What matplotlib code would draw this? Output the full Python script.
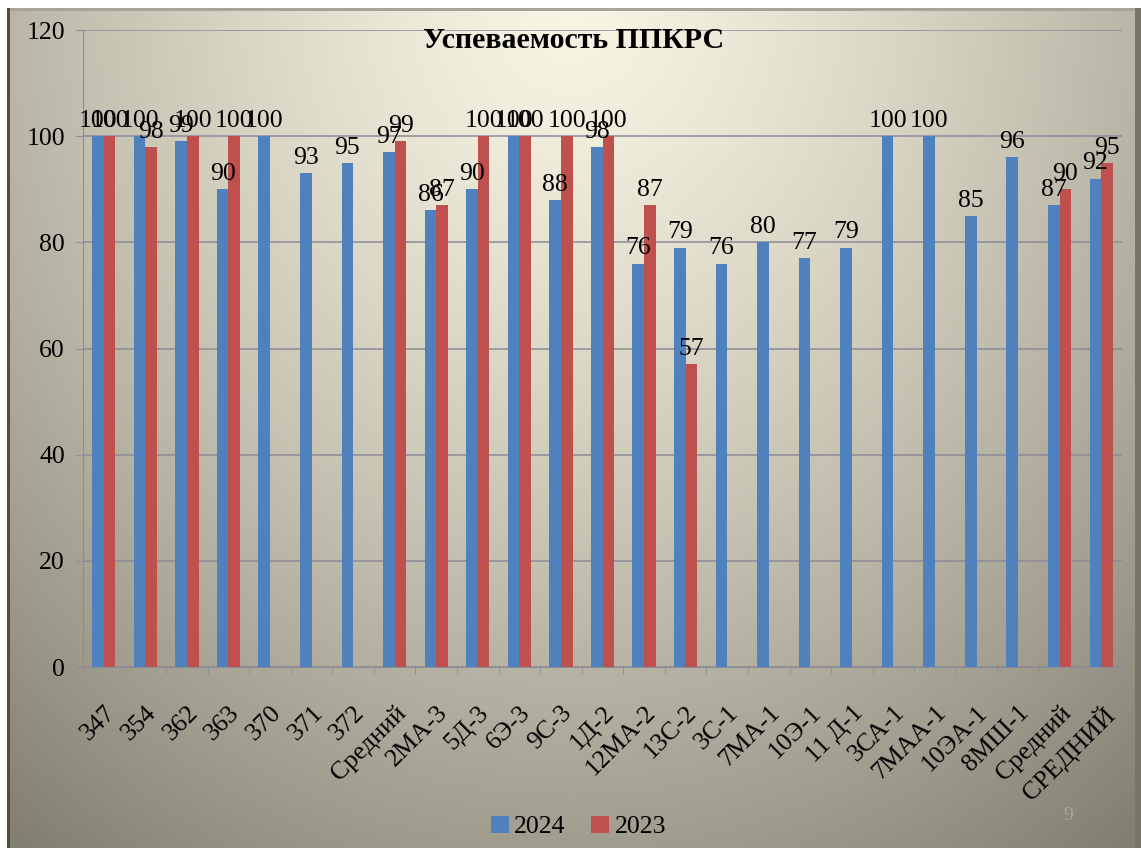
import numpy as np
import matplotlib
matplotlib.use("Agg")
import matplotlib.pyplot as plt

plt.rcParams['font.family'] = ['Liberation Serif', 'DejaVu Serif']

categories = ["347", "354", "362", "363", "370", "371", "372", "Средний",
              "2МА-3", "5Д-3", "6Э-3", "9С-3", "1Д-2", "12МА-2", "13С-2",
              "3С-1", "7МА-1", "10Э-1", "11 Д-1", "3СА-1", "7МАА-1",
              "10ЭА-1", "8МШ-1", "Средний", "СРЕДНИЙ"]
values_2024 = [100, 100, 99, 90, 100, 93, 95, 97, 86, 90, 100, 88, 98, 76, 79,
               76, 80, 77, 79, 100, 100, 85, 96, 87, 92]
values_2023 = [100, 98, 100, 100, None, None, None, 99, 87, 100, 100, 100, 100,
               87, 57, None, None, None, None, None, None, None, None, 90, 95]

W, H = 1141, 848
fig = plt.figure(figsize=(W / 100, H / 100), dpi=100)

# background gradient (slide look)
yy, xx = np.mgrid[0:H, 0:W]
dx = (xx / W - 0.5) / 0.8
dy = (yy / H) / 1.25
t = np.clip(np.sqrt(dx ** 2 + dy ** 2), 0, 1) ** 1.3
t = t[..., None]
light = np.array([249, 245, 228]) / 255
dark = np.array([130, 127, 113]) / 255
img = light * (1 - t) + dark * t
img[:8, :] = 1.0
img[:, :7] = 1.0
img[8:11, 7:] = np.array([168, 164, 150]) / 255
img[8:, 7:10] = np.array([80, 78, 66]) / 255
img[8:, 1135:] = np.array([120, 118, 104]) / 255
bg = fig.add_axes([0, 0, 1, 1])
bg.imshow(img, aspect='auto', interpolation='bilinear')
bg.axis('off')

ax = fig.add_axes([83 / W, 1 - 667 / H, (1122 - 83) / W, (667 - 30) / H])
ax.set_facecolor('none')

x = np.arange(len(categories))
w = 0.28
v23 = np.array([np.nan if v is None else v for v in values_2023], dtype=float)
b1 = ax.bar(x - w / 2, values_2024, w, color='#4f81bd', label='2024', zorder=3)
b2 = ax.bar(x + w / 2, v23, w, color='#c0504d', label='2023', zorder=3)
ax.bar_label(b1, labels=[str(v) for v in values_2024], padding=3, fontsize=18.5)
ax.bar_label(b2, labels=['' if v is None else str(v) for v in values_2023],
             padding=3, fontsize=18.5)

ax.set_xlim(-0.5, len(categories) - 0.5)
ax.set_ylim(0, 120)
ax.set_yticks(range(0, 121, 20))
ax.yaxis.grid(True, color='#8a8c98', linewidth=1.1, zorder=0)
ax.set_axisbelow(True)
for s in ['top', 'right']:
    ax.spines[s].set_visible(False)
ax.spines['left'].set_color('#8a8c98')
ax.spines['bottom'].set_color('#8a8c98')
ax.tick_params(axis='y', labelsize=18.5, length=5, color='#8a8c98', pad=8)

ax.set_xticks(x)
ax.set_xticklabels(categories, rotation=45, ha='right', va='top',
                   rotation_mode='anchor', fontsize=18.5)
ax.tick_params(axis='x', which='major', length=0, pad=25)
ax.set_xticks(np.arange(-0.5, len(categories), 1), minor=True)
ax.tick_params(axis='x', which='minor', length=5, color='#8a8c98')

fig.text(574 / W, 1 - 40 / H, "Успеваемость ППКРС", ha='center', va='center',
         fontsize=21.5, fontweight='bold')
fig.text(1068 / W, 1 - 815 / H, "9", ha='center', va='center', fontsize=14,
         color='#aaa89c')

fig.legend(loc='center', bbox_to_anchor=(0.507, 1 - 827 / H), ncol=2,
           frameon=False, fontsize=18.5, handlelength=0.7, handleheight=0.7,
           handletextpad=0.2, columnspacing=1.0)

fig.savefig("out.png", dpi=100)
